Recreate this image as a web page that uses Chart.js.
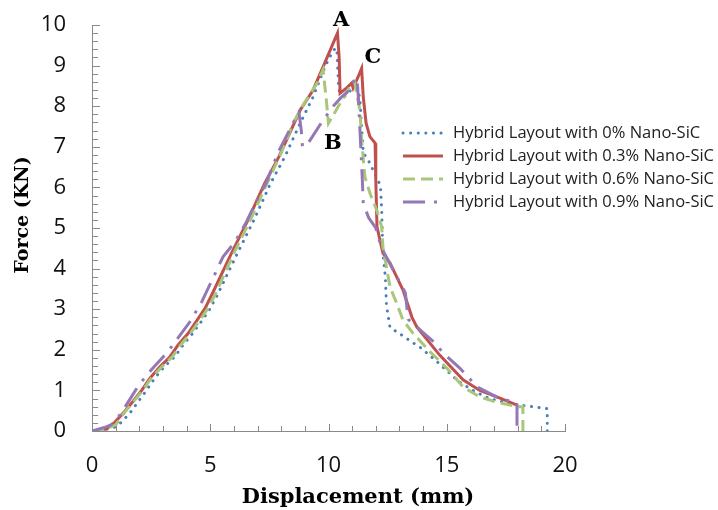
<!DOCTYPE html>
<html>
<head>
<meta charset="utf-8">
<script src="https://cdn.jsdelivr.net/npm/chart.js@4.4.1/dist/chart.umd.min.js"></script>
<style>
  body { margin: 0; background: #fff; }
</style>
</head>
<body>
<canvas id="myChart" width="718" height="510"></canvas>
<script>
// series: displacement (mm) vs force (kN)
const seriesNames = [
  "Hybrid Layout with 0% Nano-SiC",
  "Hybrid Layout with 0.3% Nano-SiC",
  "Hybrid Layout with 0.6% Nano-SiC",
  "Hybrid Layout with 0.9% Nano-SiC"
];

const x0 = [0, 0.5, 1.0, 1.25, 1.6, 1.95, 2.3, 2.65, 3.05, 3.5, 3.85, 4.25, 4.65, 5.0, 5.3, 6.15, 6.85, 7.55, 8.15, 8.8, 9.35, 9.85, 10.2, 10.35, 10.42, 10.5, 10.8, 11.2, 11.33, 11.4, 11.47, 11.7, 12.15, 12.2, 12.25, 12.3, 12.4, 12.45, 12.6, 13.0, 13.5, 13.9, 14.6, 15.5, 16.1, 16.8, 17.5, 18.2, 19.0, 19.25, 19.25];
const y0 = [0, 0.03, 0.1, 0.22, 0.44, 0.72, 1.0, 1.3, 1.58, 1.83, 2.12, 2.4, 2.72, 3.02, 3.35, 4.38, 5.2, 6.1, 6.75, 7.58, 8.23, 8.97, 9.38, 9.43, 8.55, 8.15, 8.3, 8.57, 8.15, 7.5, 6.85, 6.65, 6.1, 6.0, 5.4, 4.4, 3.8, 3.1, 2.55, 2.4, 2.2, 2.05, 1.7, 1.22, 1.0, 0.8, 0.7, 0.63, 0.57, 0.55, 0];

const x3 = [0, 0.3, 0.6, 0.97, 1.32, 1.72, 2.1, 2.45, 2.87, 3.3, 3.64, 4.06, 4.43, 4.78, 5.06, 5.9, 6.6, 7.3, 7.9, 8.8, 9.35, 9.77, 10.27, 10.38, 10.45, 10.49, 10.77, 10.98, 11.04, 11.25, 11.4, 11.47, 11.59, 11.75, 11.97, 12.0, 12.05, 12.3, 12.6, 13.15, 13.53, 13.74, 14.7, 15.69, 16.4, 17.25, 17.97];
const y3 = [0, 0.02, 0.05, 0.22, 0.44, 0.72, 1.0, 1.3, 1.58, 1.83, 2.12, 2.4, 2.72, 3.02, 3.35, 4.38, 5.2, 6.1, 6.75, 7.9, 8.4, 8.97, 9.65, 9.8, 9.2, 8.32, 8.45, 8.57, 8.45, 8.72, 8.93, 8.23, 7.58, 7.25, 7.09, 6.18, 5.03, 4.38, 4.14, 3.47, 2.8, 2.56, 1.87, 1.26, 1.0, 0.81, 0.64];

const x6 = [0, 0.5, 1.0, 1.35, 1.75, 2.15, 2.5, 2.95, 3.4, 3.75, 4.15, 4.55, 4.9, 5.2, 6.0, 6.7, 7.4, 8.0, 8.5, 9.0, 9.5, 9.77, 9.9, 10.0, 10.4, 10.9, 11.1, 11.33, 11.4, 11.54, 11.75, 12.04, 12.25, 12.3, 12.6, 12.88, 13.15, 13.57, 14.3, 15.0, 15.7, 16.4, 17.1, 17.97, 18.22, 18.22];
const y6 = [0, 0.03, 0.15, 0.44, 0.72, 1.0, 1.3, 1.58, 1.83, 2.12, 2.4, 2.72, 3.02, 3.35, 4.38, 5.2, 6.1, 6.85, 7.58, 8.1, 8.55, 8.9, 8.2, 7.58, 7.98, 8.47, 8.6, 7.9, 7.17, 6.26, 5.86, 5.44, 5.03, 4.53, 3.55, 3.15, 2.73, 2.41, 1.95, 1.55, 1.08, 0.84, 0.71, 0.6, 0.6, 0];

const x9 = [0, 0.3, 0.6, 0.8, 1.0, 1.3, 1.6, 2.0, 2.5, 3.2, 4.14, 4.64, 5.12, 5.54, 6.05, 6.54, 6.9, 7.39, 7.85, 8.5, 8.75, 8.85, 8.9, 9.15, 9.65, 10.2, 10.56, 10.8, 11.1, 11.2, 11.27, 11.33, 11.43, 11.47, 11.7, 12.0, 12.25, 12.8, 13.25, 13.37, 14.05, 14.5, 14.85, 15.55, 16.3, 17.1, 17.8, 17.97, 17.97];
const y9 = [0, 0.05, 0.1, 0.15, 0.25, 0.5, 0.78, 1.15, 1.5, 1.95, 2.69, 3.18, 3.77, 4.29, 4.66, 5.16, 5.6, 6.14, 6.84, 7.58, 7.85, 7.4, 7.0, 7.1, 7.55, 8.0, 8.23, 8.35, 8.65, 8.7, 8.15, 7.41, 6.2, 5.6, 5.25, 5.0, 4.5, 3.9, 3.4, 2.75, 2.4, 2.17, 1.92, 1.55, 1.08, 0.84, 0.71, 0.69, 0];

const xTicks = [0, 5, 10, 15, 20];
const yTicks = [0, 1, 2, 3, 4, 5, 6, 7, 8, 9, 10];
const xTitle = "Displacement (mm)";
const yTitle = "Force (KN)";

// point labels on the curves
const noteText = ["A", "B", "C"];
const noteX = [10.53, 10.19, 11.88];
const noteY = [10.12, 7.09, 9.21];

const colors = ["#4A7EBB", "#C0504D", "#A9C77A", "#9478B5"];
const dashes = [[0.1, 7.5], [], [12, 6], [22, 9, 3, 9]];
const caps = ["round", "butt", "butt", "butt"];
const widths = [3, 3, 3, 3];
const xs = [x0, x3, x6, x9];
const ys = [y0, y3, y6, y9];

function toPoints(xv, yv) {
  return xv.map((v, i) => ({ x: v, y: yv[i] }));
}

const datasets = seriesNames.map((name, i) => ({
  label: name,
  data: toPoints(xs[i], ys[i]),
  showLine: true,
  borderColor: colors[i],
  backgroundColor: colors[i],
  borderWidth: widths[i],
  borderDash: dashes[i],
  borderCapStyle: caps[i],
  pointRadius: 0,
  tension: 0,
  order: 4 - i
}));

const extras = {
  id: "extras",
  afterDraw(chart) {
    const ctx = chart.ctx;
    const sx = chart.scales.x;
    const sy = chart.scales.y;
    const area = chart.chartArea;
    ctx.save();
    // inside tick marks
    ctx.strokeStyle = "#898989";
    ctx.lineWidth = 1;
    ctx.beginPath();
    for (let k = 0; k <= 50; k++) {
      const py = Math.round(sy.getPixelForValue(k * 0.2)) + 0.5;
      ctx.moveTo(area.left, py);
      ctx.lineTo(area.left + (k % 5 === 0 ? 8 : 6), py);
    }
    for (let k = 0; k <= 20; k++) {
      const px = Math.round(sx.getPixelForValue(k)) + 0.5;
      ctx.moveTo(px, area.bottom);
      ctx.lineTo(px, area.bottom - (k % 5 === 0 ? 7 : 5));
    }
    ctx.stroke();

    // axis titles
    ctx.fillStyle = "#000";
    ctx.font = "bold 21px 'DejaVu Serif'";
    ctx.textAlign = "center";
    ctx.textBaseline = "middle";
    ctx.fillText(xTitle, 358, 498);
    ctx.save();
    ctx.font = "bold 19px 'DejaVu Serif'";
    ctx.translate(23, 215);
    ctx.rotate(-Math.PI / 2);
    ctx.fillText(yTitle, 0, 0);
    ctx.restore();

    // A B C
    ctx.font = "bold 21px 'DejaVu Serif'";
    noteText.forEach((t, i) => {
      ctx.fillText(t, sx.getPixelForValue(noteX[i]), sy.getPixelForValue(noteY[i]));
    });

    // legend
    ctx.font = "16.5px 'Open Sans'";
    ctx.textAlign = "left";
    ctx.fillStyle = "#222";
    seriesNames.forEach((name, i) => {
      const ly = 133 + i * 23;
      ctx.beginPath();
      ctx.strokeStyle = colors[i];
      ctx.lineWidth = widths[i];
      ctx.lineCap = caps[i];
      ctx.setLineDash(dashes[i]);
      ctx.moveTo(403, ly);
      ctx.lineTo(443, ly);
      ctx.stroke();
      ctx.setLineDash([]);
      ctx.fillText(name, 453, ly);
    });
    ctx.restore();
  }
};

new Chart("myChart", {
  type: "scatter",
  data: { datasets: datasets },
  options: {
    responsive: false,
    animation: false,
    layout: { padding: { left: 0, top: 0, right: 153, bottom: 0 } },
    plugins: {
      legend: { display: false },
      tooltip: { enabled: false }
    },
    scales: {
      x: {
        type: "linear",
        min: 0,
        max: 20,
        afterBuildTicks: (s) => { s.ticks = xTicks.map((v) => ({ value: v })); },
        afterFit: (s) => { s.height = 79; },
        grid: { display: false },
        border: { display: true, color: "#898989", width: 1 },
        ticks: { color: "#111", padding: 14, font: { family: "Open Sans", size: 22 } }
      },
      y: {
        type: "linear",
        min: 0,
        max: 10,
        afterBuildTicks: (s) => { s.ticks = yTicks.map((v) => ({ value: v })); },
        afterFit: (s) => { s.width = 92; s.paddingTop = 25; s.paddingBottom = 0; },
        grid: { display: false },
        border: { display: true, color: "#898989", width: 1 },
        ticks: { color: "#111", padding: 18, font: { family: "Open Sans", size: 22 } }
      }
    }
  },
  plugins: [extras]
});
</script>
</body>
</html>
